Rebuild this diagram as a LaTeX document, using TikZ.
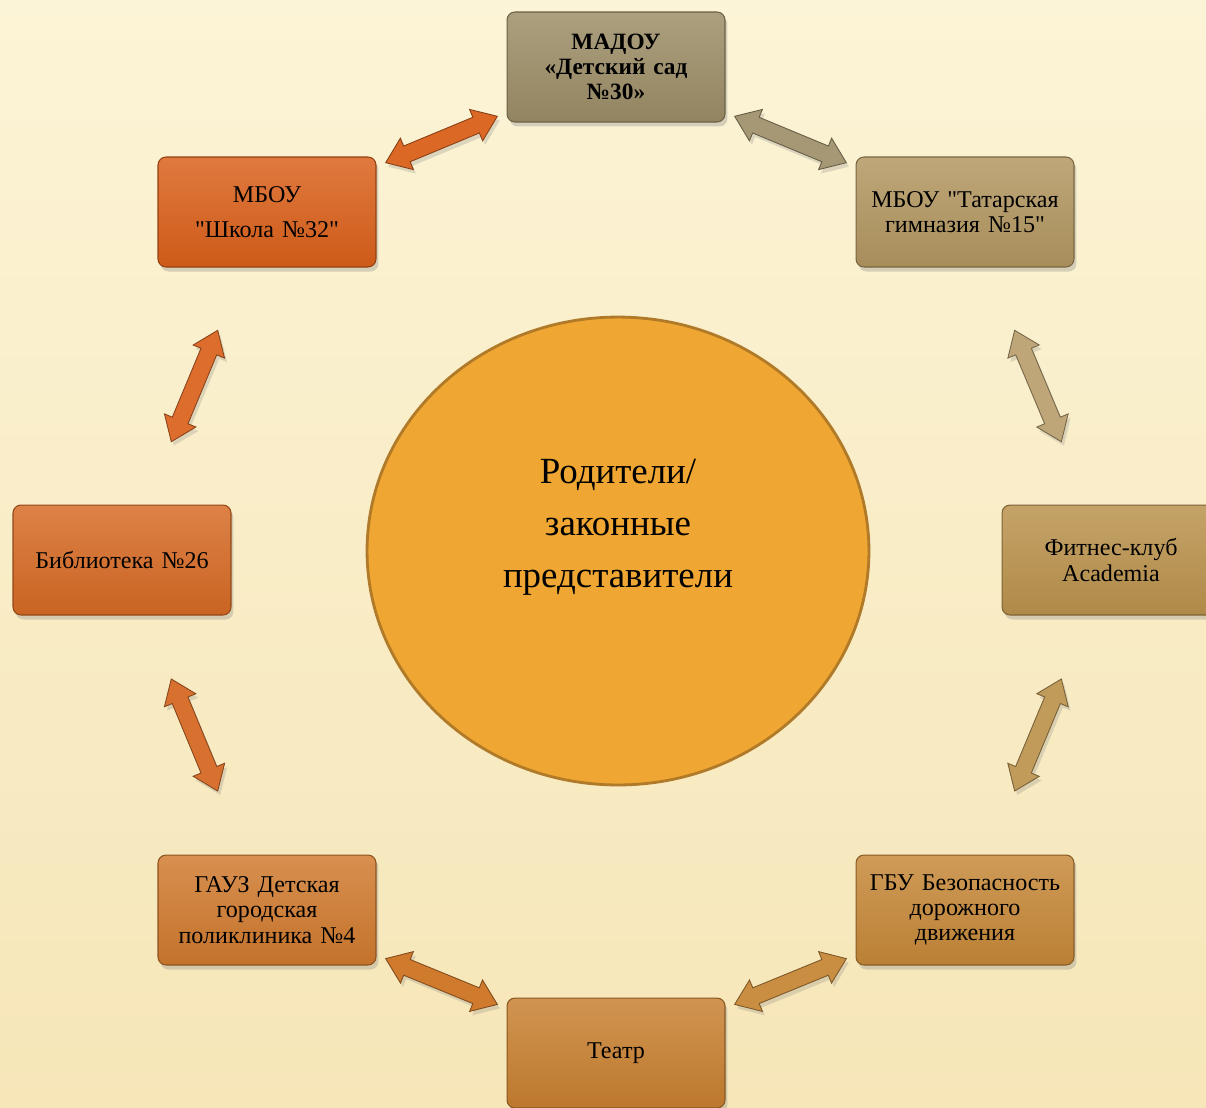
\documentclass[tikz,border=0pt]{standalone}
\usepackage{fontspec}
\setmainfont{Liberation Serif}
\usetikzlibrary{calc,shadows,shapes.geometric}

\definecolor{bgtop}{RGB}{252,244,214}
\definecolor{bgbot}{RGB}{246,230,184}
\definecolor{cMadou}{RGB}{156,141,102}
\definecolor{cShk}{RGB}{218,96,26}
\definecolor{cTat}{RGB}{178,150,96}
\definecolor{cBib}{RGB}{214,106,36}
\definecolor{cFit}{RGB}{186,146,76}
\definecolor{cGauz}{RGB}{208,122,46}
\definecolor{cGbu}{RGB}{198,136,56}
\definecolor{cTeatr}{RGB}{200,128,48}
\definecolor{cPar}{RGB}{239,166,50}
\definecolor{cParEdge}{RGB}{176,122,40}

\tikzset{
  box/.style={shape=rectangle, rounded corners=0.16cm, minimum width=4.36cm, minimum height=2.2cm,
    text width=4.0cm, align=center, font=\fontsize{13.7}{14.4}\selectfont,
    top color=#1!84!white, bottom color=#1!94!black, draw=#1!68!black, line width=0.6pt,
    drop shadow={opacity=0.3, shadow xshift=0.05cm, shadow yshift=-0.09cm}},
  arrowblk/.style={fill=#1, draw=#1!62!black, line width=0.5pt, line join=miter,
    drop shadow={opacity=0.25, shadow xshift=0.05cm, shadow yshift=-0.08cm}},
}

% block double arrow between two nodes
\newcommand\linkarrow[3]{%
  \coordinate (la) at ($(#1)!.34!(#2)$);
  \coordinate (lb) at ($(#1)!.66!(#2)$);
  \coordinate (lc) at ($(la)!0.46cm!(lb)$);
  \coordinate (ld) at ($(lb)!0.46cm!(la)$);
  \draw[arrowblk=#3] (la) -- ($(lc)!0.34cm!90:(lb)$) -- ($(lc)!0.17cm!90:(lb)$)
    -- ($(ld)!0.17cm!-90:(la)$) -- ($(ld)!0.34cm!-90:(la)$) -- (lb)
    -- ($(ld)!0.34cm!90:(la)$) -- ($(ld)!0.17cm!90:(la)$)
    -- ($(lc)!0.17cm!-90:(lb)$) -- ($(lc)!0.34cm!-90:(lb)$) -- cycle;}

\begin{document}
\begin{tikzpicture}[x=0.02cm, y=-0.02cm]
	%%%%% BACKGROUND %%%%%
	\useasboundingbox (0,0) rectangle (1206,1107);
	\clip (0,0) rectangle (1206,1107);
	\shade[top color=bgtop, bottom color=bgbot] (0,0) rectangle (1206,1107);
	
	%%%%% CENTRE %%%%%
	\node[ellipse, minimum width=10.04cm, minimum height=9.36cm, fill=cPar, draw=cParEdge, line width=1.6pt] (par) at (618,551) {};
	\node[align=center, font=\fontsize{21}{29.5}\selectfont] (partext) at (618,527) {Родители/\\законные\\представители};
	
	%%%%% BOXES %%%%%
	\node[box=cMadou, font=\bfseries\fontsize{13.3}{14.3}\selectfont] (madou) at (616,67) {МАДОУ\\«Детский сад\\№30»};
	\node[box=cShk, font=\fontsize{13.7}{20}\selectfont] (shk) at (267,212) {МБОУ\\\textquotedbl Школа №32\textquotedbl};
	\node[box=cTat] (tat) at (965,212) {МБОУ \textquotedbl Татарская\\гимназия №15\textquotedbl};
	\node[box=cBib] (bib) at (122,560) {Библиотека №26};
	\node[box=cFit] (fit) at (1111,560) {Фитнес-клуб\\Academia};
	\node[box=cGauz] (gauz) at (267,910) {ГАУЗ Детская\\городская\\поликлиника №4};
	\node[box=cGbu] (gbu) at (965,910) {ГБУ Безопасность\\дорожного\\движения};
	\node[box=cTeatr] (teatr) at (616,1053) {Театр};
	
	%%%%% ARROWS %%%%%
	\linkarrow{shk}{madou}{cShk!95!white}
	\linkarrow{madou}{tat}{cMadou!90!white}
	\linkarrow{shk}{bib}{cShk!92!white}
	\linkarrow{tat}{fit}{cTat!85!white}
	\linkarrow{bib}{gauz}{cBib!95!white}
	\linkarrow{fit}{gbu}{cFit!92!white}
	\linkarrow{gauz}{teatr}{cGauz}
	\linkarrow{teatr}{gbu}{cGbu!95!white}
	
\end{tikzpicture}
\end{document}
